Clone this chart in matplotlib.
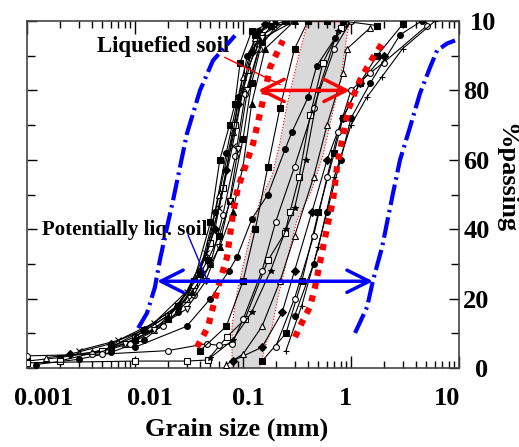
import numpy as np
import matplotlib.pyplot as plt
from matplotlib.patches import FancyArrowPatch
from matplotlib.ticker import LogLocator, NullFormatter
from matplotlib.transforms import ScaledTranslation, Bbox, TransformedBbox

plt.rcParams['font.family'] = ['Liberation Serif', 'DejaVu Serif']
plt.rcParams['font.weight'] = 'bold'
plt.rcParams['axes.labelweight'] = 'bold'

# grading curves (grain size in mm, % passing)
curve_sizes = [
    [0.001, 0.002, 0.005, 0.01, 0.02, 0.035, 0.05, 0.061, 0.075, 0.084, 0.094, 0.12, 0.2],
    [0.0012, 0.003, 0.006, 0.012, 0.025, 0.04, 0.055, 0.07, 0.09, 0.11, 0.14, 0.2],
    [0.0015, 0.004, 0.008, 0.015, 0.03, 0.045, 0.06, 0.08, 0.1, 0.13, 0.18],
    [0.002, 0.005, 0.01, 0.02, 0.035, 0.05, 0.065, 0.085, 0.11, 0.15, 0.25],
    [0.0025, 0.006, 0.012, 0.025, 0.04, 0.055, 0.07, 0.09, 0.12, 0.16],
    [0.003, 0.007, 0.015, 0.03, 0.045, 0.06, 0.08, 0.1, 0.13, 0.2],
    [0.004, 0.009, 0.018, 0.035, 0.05, 0.065, 0.085, 0.105, 0.14, 0.22],
    [0.006, 0.012, 0.025, 0.04, 0.047, 0.06, 0.076, 0.1, 0.12, 0.15, 0.25],
    [0.008, 0.015, 0.03, 0.045, 0.06, 0.075, 0.09, 0.11, 0.15, 0.3],
    [0.01, 0.02, 0.034, 0.05, 0.061, 0.08, 0.1, 0.12, 0.16, 0.3],
    [0.01, 0.03, 0.05, 0.074, 0.088, 0.121, 0.17, 0.245, 0.284, 0.4, 0.48, 0.71, 1.0],
    [0.001, 0.01, 0.03, 0.047, 0.071, 0.104, 0.17, 0.245, 0.272, 0.33, 0.42, 0.55, 0.8],
    [0.001, 0.005, 0.02, 0.046, 0.06, 0.079, 0.1, 0.15, 0.2, 0.3, 0.45, 0.7, 1.0],
    [0.05, 0.08, 0.12, 0.18, 0.25, 0.3, 0.38, 0.5, 0.75],
    [0.08, 0.15, 0.23, 0.3, 0.435, 0.6, 0.84, 1.2, 2.0],
    [0.04, 0.07, 0.1, 0.13, 0.17, 0.22, 0.3, 0.4],
    [0.07, 0.1, 0.15, 0.22, 0.3, 0.45, 0.6, 0.84, 0.92, 1.5],
    [0.15, 0.25, 0.35, 0.5, 0.7, 0.84, 1.2, 1.74, 3.0],
    [0.2, 0.3, 0.45, 0.6, 0.76, 1.0, 1.5, 2.0, 5.06],
    [0.25, 0.35, 0.5, 0.7, 1.0, 1.4, 1.94, 3.0, 6.0],
    [0.3, 0.45, 0.6, 0.8, 1.0, 1.5, 2.84, 4.5],
    [0.13, 0.18, 0.245, 0.4, 0.6, 0.84, 1.74],
]
curve_passing = [
    [2, 3, 5, 8, 14, 25, 42, 60, 70, 76, 88, 97, 100],
    [1, 2.5, 4.5, 8, 16, 28, 45, 62, 78, 90, 97, 100],
    [3, 4.5, 7, 11, 20, 32, 50, 68, 84, 95, 100],
    [2, 5, 9, 15, 24, 36, 52, 70, 86, 96, 100],
    [4, 7, 11, 18, 28, 40, 57, 76, 91, 99],
    [5, 8, 13, 22, 33, 46, 64, 80, 93, 100],
    [4, 7, 12, 21, 30, 44, 61, 79, 92, 100],
    [6, 11, 18, 27, 31, 38, 48, 66, 82, 94, 100],
    [7, 11, 17, 25, 35, 48, 63, 80, 95, 100],
    [9, 15, 22, 30, 35, 45, 58, 76, 92, 100],
    [6, 12, 20, 28, 32, 43, 50, 63, 68, 78, 87, 95, 100],
    [1.5, 2, 2, 2.3, 9, 14, 31, 39, 45, 55, 73, 88, 98],
    [3.5, 4, 5, 7, 6.5, 7, 14, 28, 42, 58, 75, 92, 100],
    [3, 8, 16, 28, 40, 46, 60, 80, 97],
    [2, 6, 16, 28, 45, 60, 72, 82, 90],
    [5, 12, 25, 40, 58, 75, 92, 100],
    [1, 4, 12, 25, 38, 55, 70, 85, 92, 98],
    [2, 10, 25, 45, 62, 72, 82, 90, 99],
    [6, 20, 38, 55, 68, 80, 85, 88, 98.7],
    [5, 18, 35, 55, 70, 78, 84, 92, 100],
    [15, 30, 45, 60, 72, 82, 96, 100],
    [96, 98.7, 100, 100, 100, 100, 98.7],
]

# boundary curves
blue_left_x = [0.0107, 0.0129, 0.0153, 0.017, 0.0198, 0.0225, 0.0303, 0.040, 0.0527, 0.0843]
blue_left_y = [11.5, 15.8, 23.3, 31.1, 40.6, 48.3, 67.6, 80, 88.6, 95.8]
blue_right_x = [1.09, 1.41, 1.60, 1.94, 2.15, 2.45, 2.84, 3.52, 4.35, 5.39, 6.26, 7.74, 9.18]
blue_right_y = [10.1, 17.6, 25.3, 34.8, 41.7, 50.4, 59.9, 69.4, 79.1, 86.6, 91.5, 93.5, 94.4]
red_left_x = [0.0375, 0.0474, 0.0587, 0.0711, 0.0808, 0.0899, 0.1, 0.124, 0.153, 0.178, 0.234]
red_left_y = [6.0, 11.8, 23.3, 31.9, 44.6, 52.1, 56.1, 64.7, 77.1, 86.6, 94.4]
red_right_x = [0.303, 0.36, 0.417, 0.464, 0.551, 0.612, 0.681, 0.741, 0.826, 0.938, 1.04, 1.21, 1.41, 1.6, 1.94]
red_right_y = [8.9, 13.8, 17.6, 23.3, 34.8, 41.7, 48.3, 57.8, 65.6, 74.2, 78.0, 82.9, 86.6, 89.5, 93.5]

# shaded band of liquefied soils
band_left_x = [0.0791, 0.0791, 0.0843, 0.098, 0.116, 0.144, 0.186, 0.22, 0.255, 0.323, 0.40]
band_left_y = [0, 11.8, 18.7, 28.2, 37.7, 48.3, 55.5, 65.0, 75.7, 89.2, 100]
band_right_x = [0.144, 0.16, 0.186, 0.211, 0.255, 0.316, 0.426, 0.551, 0.667, 0.791, 0.918, 0.98]
band_right_y = [0, 6.0, 11.8, 20.4, 31.1, 42.6, 50.6, 61.3, 72.8, 82.3, 95.8, 100]

# arrows and labels
red_arrow_x = [0.138, 0.98]
red_arrow_y = 80
blue_arrow_x = [0.016, 1.6]
blue_arrow_y = 25
red_leader = [(0.068, 89.5), (0.22, 81.7)]
blue_leader = [(0.031, 38.3), (0.0474, 24.7)]
x_ticks = [0.001, 0.01, 0.1, 1, 10]
x_tick_labels = ['0.001', '0.01', '0.1', '1', '10']
y_ticks = [0, 20, 40, 60, 80, 100]

fig = plt.figure(figsize=(5.19, 4.47), dpi=100)
ax = fig.add_axes([27 / 519, 1 - 368 / 447, 432 / 519, 347 / 447])
ax.set_xscale('log')
ax.set_xlim(0.001, 10)
ax.set_ylim(0, 100)

# gray band
ax.fill(np.concatenate([band_left_x, band_right_x[::-1]]),
        np.concatenate([band_left_y, band_right_y[::-1]]),
        color='#d9d9d9', lw=0, zorder=1)
ax.plot(band_left_x, band_left_y, color='red', lw=0.8, ls=':', zorder=1.5)
ax.plot(band_right_x, band_right_y, color='red', lw=0.8, ls=':', zorder=1.5)
ax.plot([band_left_x[-1], band_right_x[-1]], [100, 100], color='#c00000', lw=1, zorder=1.5)
ax.plot([band_left_x[0], band_right_x[0]], [0, 0], color='red', lw=1, ls=':', zorder=1.5)

# grading curves
marker_cycle = ['s', 'o', '^', 's', 'D', 'x', 'o', 's', 'v', '^', 'o', 's', 'o',
                '*', 'D', 's', '^', 's', 'o', '+', 'o', 's']
open_cycle = [False, False, True, True, False, False, True, False, True, False, False,
              True, True, False, False, False, True, False, True, False, False, False]
for xs, ys, mk, op in zip(curve_sizes, curve_passing, marker_cycle, open_cycle):
    ax.plot(xs, ys, color='black', lw=0.8, marker=mk, ms=4.2, mew=0.8,
            mfc='white' if op else 'black', mec='black', zorder=3)

# limit curves
ax.plot(red_left_x, red_left_y, color='red', lw=4.5, ls=(0, (1, 1.1)),
        dash_capstyle='butt', zorder=4)
ax.plot(red_right_x, red_right_y, color='red', lw=4.5, ls=(0, (1, 1.1)),
        dash_capstyle='butt', zorder=4)
ax.plot(blue_left_x, blue_left_y, color='blue', lw=3, ls=(0, (5, 1.2, 0.6, 1.2)), zorder=4)
ax.plot(blue_right_x, blue_right_y, color='blue', lw=3, ls=(0, (5, 1.2, 0.6, 1.2)), zorder=4)

# arrows
for xs, y, col in [(red_arrow_x, red_arrow_y, 'red'), (blue_arrow_x, blue_arrow_y, 'blue')]:
    ax.add_patch(FancyArrowPatch((xs[0], y), (xs[1], y),
                                 arrowstyle='<->,head_length=0.8,head_width=0.4',
                                 mutation_scale=20, lw=2.5, color=col,
                                 shrinkA=0, shrinkB=0, zorder=5))
ax.plot(*zip(*red_leader), color='red', lw=1, zorder=5)
ax.plot(*zip(*blue_leader), color='blue', lw=1, zorder=5)

ax.text(0.00445, 92.7, 'Liquefied soil', fontsize=16.5, ha='left', va='center', zorder=2)
ax.text(0.00138, 39.7, 'Potentially liq. soil', fontsize=15, ha='left', va='center', zorder=2)

# axes styling
ax.set_xticks(x_ticks)
ax.set_xticklabels(x_tick_labels)
ax.xaxis.set_minor_locator(LogLocator(base=10, subs=np.arange(2, 10)))
ax.xaxis.set_minor_formatter(NullFormatter())
ax.set_yticks(y_ticks)
ax.set_yticks([10, 30, 50, 70, 90], minor=True)
ax.tick_params(axis='x', which='both', direction='in', top=True, bottom=True, labelsize=19, pad=14)
ax.tick_params(axis='x', which='major', length=9, width=1)
ax.tick_params(axis='x', which='minor', length=5, width=1)
ax.tick_params(axis='y', which='both', direction='in', left=True, right=True,
               labelleft=False, labelright=True, labelsize=19, pad=3)
ax.tick_params(axis='y', which='major', length=7, width=1)
ax.tick_params(axis='y', which='minor', length=6, width=1)
for sp in ax.spines.values():
    sp.set_linewidth(1.2)
    sp.set_color('#444444')

for lab, dx in zip(ax.get_xticklabels(), [17, 15, 5, -6, -12]):
    lab.set_transform(lab.get_transform() + ScaledTranslation(dx / 100, 0, fig.dpi_scale_trans))
ylabs = ax.get_yticklabels(which='major')
ylabs[0].set_transform(ylabs[0].get_transform() + ScaledTranslation(0.12, 0, fig.dpi_scale_trans))
ylabs[-1].set_transform(ylabs[-1].get_transform() + ScaledTranslation(0.07, 0, fig.dpi_scale_trans))
ylabs[-1].set_clip_on(True)
ylabs[-1].set_clip_box(TransformedBbox(Bbox.from_extents(0, 0, 495 / 519, 1), fig.transFigure))

ax.set_xlabel('Grain size (mm)', fontsize=19, fontweight='bold')
ax.xaxis.set_label_coords(0.486, -0.144)
fig.text(494 / 519, 0.602, '%passing', fontsize=19, fontweight='bold',
         rotation=270, ha='left', va='center')

fig.savefig('out.png', dpi=100)
